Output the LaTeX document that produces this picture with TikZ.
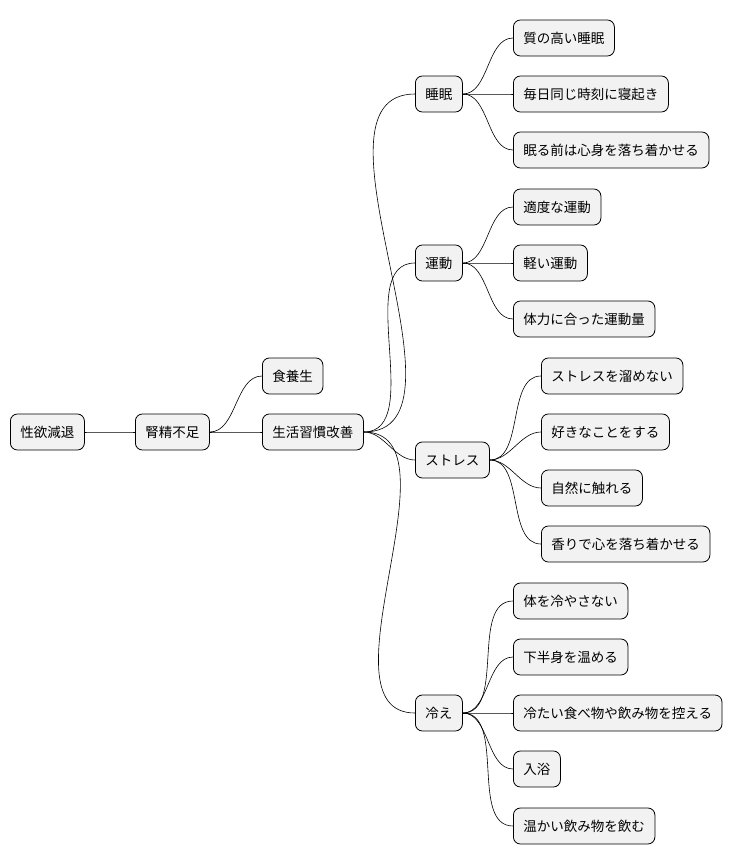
\documentclass[tikz,border=0pt]{standalone}
\usepackage{fontspec}
\setmainfont{Noto Sans CJK JP}
\usetikzlibrary{shapes}

\begin{document}
\begin{tikzpicture}[x=1pt, y=-1pt]
\tikzstyle{topic}=[rectangle, rounded corners=7pt, draw=black, fill=black!5, line width=0.8pt, minimum height=36pt, inner xsep=10pt, anchor=west, font=\fontsize{13.5}{15}\selectfont]
\tikzstyle{drawstyle}=[line width=0.6pt, out=0, in=180, looseness=0.9]
\useasboundingbox (0,0) rectangle (740,865);

\node[topic] (N0) at (10,432) {性欲減退};
\node[topic] (N1) at (135,432) {腎精不足};
\node[topic] (N2a) at (262,376) {食養生};
\node[topic] (N2b) at (262,432) {生活習慣改善};
\draw[drawstyle] (N0.east) to (N1.west);
\draw[drawstyle] (N1.east) to (N2a.west);
\draw[drawstyle] (N1.east) to (N2b.west);

\node[topic] (S) at (415,94) {睡眠};
\node[topic] (U) at (415,263) {運動};
\node[topic] (T) at (415,460) {ストレス};
\node[topic] (H) at (415,713) {冷え};
\draw[drawstyle] (N2b.east) to (S.west);
\draw[drawstyle] (N2b.east) to (U.west);
\draw[drawstyle] (N2b.east) to (T.west);
\draw[drawstyle] (N2b.east) to (H.west);

\node[topic] (S1) at (513,38) {質の高い睡眠};
\node[topic] (S2) at (513,94) {毎日同じ時刻に寝起き};
\node[topic] (S3) at (513,150) {眠る前は心身を落ち着かせる};
\draw[drawstyle] (S.east) to (S1.west);
\draw[drawstyle] (S.east) to (S2.west);
\draw[drawstyle] (S.east) to (S3.west);

\node[topic] (U1) at (513,207) {適度な運動};
\node[topic] (U2) at (513,263) {軽い運動};
\node[topic] (U3) at (513,319) {体力に合った運動量};
\draw[drawstyle] (U.east) to (U1.west);
\draw[drawstyle] (U.east) to (U2.west);
\draw[drawstyle] (U.east) to (U3.west);

\node[topic] (T1) at (541,376) {ストレスを溜めない};
\node[topic] (T2) at (541,432) {好きなことをする};
\node[topic] (T3) at (541,488) {自然に触れる};
\node[topic] (T4) at (541,544) {香りで心を落ち着かせる};
\draw[drawstyle] (T.east) to (T1.west);
\draw[drawstyle] (T.east) to (T2.west);
\draw[drawstyle] (T.east) to (T3.west);
\draw[drawstyle] (T.east) to (T4.west);

\node[topic] (H1) at (513,601) {体を冷やさない};
\node[topic] (H2) at (513,657) {下半身を温める};
\node[topic] (H3) at (513,713) {冷たい食べ物や飲み物を控える};
\node[topic] (H4) at (513,769) {入浴};
\node[topic] (H5) at (513,826) {温かい飲み物を飲む};
\draw[drawstyle] (H.east) to (H1.west);
\draw[drawstyle] (H.east) to (H2.west);
\draw[drawstyle] (H.east) to (H3.west);
\draw[drawstyle] (H.east) to (H4.west);
\draw[drawstyle] (H.east) to (H5.west);
\end{tikzpicture}
\end{document}
